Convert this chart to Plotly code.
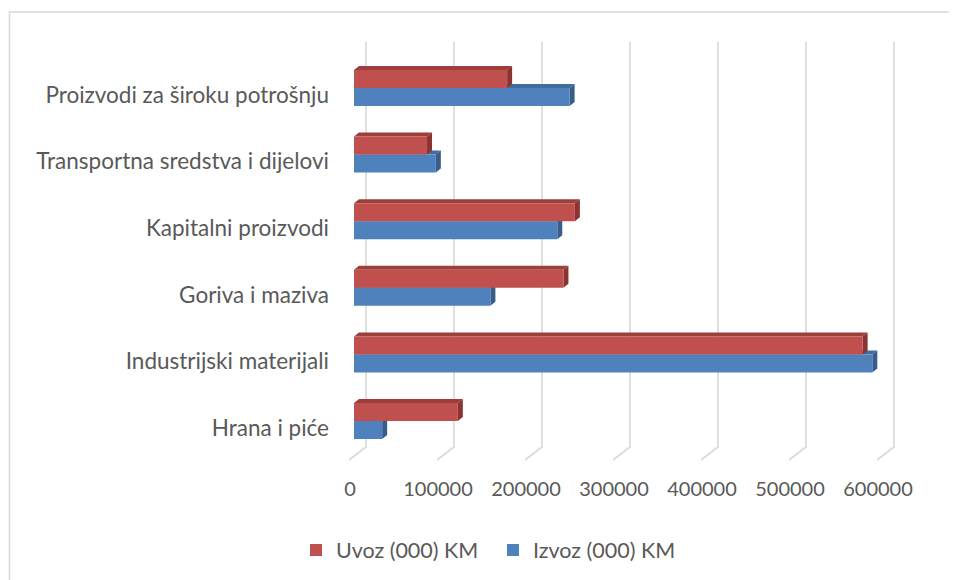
import plotly.graph_objects as go

# ---- data (bottom to top) ----
categories = ["Hrana i piće", "Industrijski materijali", "Goriva i maziva",
              "Kapitalni proizvodi", "Transportna sredstva i dijelovi",
              "Proizvodi za široku potrošnju"]
uvoz = [118000, 578000, 238000, 251000, 83000, 174000]
izvoz = [32000, 589000, 155000, 231000, 93000, 245000]
tick_values = [0, 100000, 200000, 300000, 400000, 500000, 600000]
tick_labels = ["0", "100000", "200000", "300000", "400000", "500000", "600000"]
series_names = ["Uvoz (000) KM", "Izvoz (000) KM"]

# ---- geometry (page pixels; the page body has an 8px margin) ----
OFF = 8
W, H = 957 - OFF, 580 - OFF
PX_PER_UNIT_X = 88 / 100000      # pixels per value unit
PX_PER_CAT = 66.6                # pixels per category
L_PX, R_PX = 346, 900            # plot area left/right (page px)
T_PX, B_PX = 40, 462             # plot area top/bottom (page px)
ZERO_PX = 354                    # page px of value 0
CAT0_PX = 421                    # page px of category index 0

xmin = (L_PX - ZERO_PX) / PX_PER_UNIT_X
xmax = (R_PX - ZERO_PX) / PX_PER_UNIT_X
ymin = (CAT0_PX - B_PX) / PX_PER_CAT
ymax = (CAT0_PX - T_PX) / PX_PER_CAT

def dx(p):
    return p / PX_PER_UNIT_X

def dy(p):
    return p / PX_PER_CAT

def ypix(p):
    return (CAT0_PX - p) / PX_PER_CAT

BARGAP = 0.46
t = (1 - BARGAP) / 2
idx = list(range(len(categories)))

RED, BLUE = "#C0504D", "#4F81BD"
RED_TOP, RED_SIDE = "#9E3E3B", "#8A3431"
BLUE_TOP, BLUE_SIDE = "#426C9E", "#385D8A"
GRID = "#D9D9D9"
TXT = "#595959"
FONT = "Lato"

fig = go.Figure()
fig.add_trace(go.Bar(y=idx, x=izvoz, orientation="h", name=series_names[1],
                     marker=dict(color=BLUE, line=dict(width=0))))
fig.add_trace(go.Bar(y=idx, x=uvoz, orientation="h", name=series_names[0],
                     marker=dict(color=RED, line=dict(width=0))))

shapes = []
# back-wall gridlines with floor diagonals
for v in tick_values:
    xb = v + dx(12)
    xf = v - dx(5)
    shapes.append(dict(type="path", xref="x", yref="y", layer="between",
                       path=f"M {xb},{ypix(42)} L {xb},{ypix(447)} L {xf},{ypix(460)}",
                       line=dict(color=GRID, width=1.6)))

DXP, DYP = dx(5), dy(4)

def faces(v, y0, y1, top_col, side_col):
    return [
        dict(type="path", xref="x", yref="y", layer="between",
             path=f"M 0,{y1} L {v},{y1} L {v+DXP},{y1+DYP} L {DXP},{y1+DYP} Z",
             fillcolor=top_col, line=dict(width=0)),
        dict(type="path", xref="x", yref="y", layer="between",
             path=f"M {v},{y0} L {v+DXP},{y0+DYP} L {v+DXP},{y1+DYP} L {v},{y1} Z",
             fillcolor=side_col, line=dict(width=0)),
    ]

for i, v in zip(idx, izvoz):
    shapes += faces(v, i - t, i, BLUE_TOP, BLUE_SIDE)
for i, v in zip(idx, uvoz):
    shapes += faces(v, i, i + t, RED_TOP, RED_SIDE)

# outer chart border (page px -> paper)
def px2paper_x(p):
    return (p - L_PX) / (R_PX - L_PX)

def px2paper_y(p):
    return (B_PX - p) / (B_PX - T_PX)

shapes.append(dict(type="path", xref="paper", yref="paper", layer="above",
                   path=(f"M {px2paper_x(9.5)},{px2paper_y(620)} "
                         f"L {px2paper_x(9.5)},{px2paper_y(12)} "
                         f"L {px2paper_x(1000)},{px2paper_y(12)}"),
                   line=dict(color=GRID, width=1.5)))

fig.update_layout(
    width=W, height=H,
    margin=dict(l=L_PX - OFF, r=W - (R_PX - OFF), t=T_PX - OFF, b=H - (B_PX - OFF),
                autoexpand=False),
    paper_bgcolor="white", plot_bgcolor="white",
    barmode="group", bargap=BARGAP, bargroupgap=0,
    font=dict(family=FONT, color=TXT, size=20),
    showlegend=True,
    legend=dict(orientation="h", traceorder="reversed",
                xref="container", yref="container",
                x=(493 - OFF) / W, y=1 - (550 - OFF) / H,
                xanchor="center", yanchor="middle",
                entrywidth=152,
                font=dict(size=21.5, color=TXT, family=FONT)),
    shapes=shapes,
)
fig.update_xaxes(range=[xmin, xmax], tickvals=tick_values, ticktext=tick_labels,
                 showgrid=False, zeroline=False, showline=False, ticks="",
                 ticklabelstandoff=13, ticklabelshift=-4,
                 tickfont=dict(size=20, color=TXT, family=FONT))
fig.update_yaxes(range=[ymin, ymax], tickvals=idx, ticktext=categories,
                 showgrid=False, zeroline=False, showline=False, ticks="",
                 ticklabelstandoff=16, ticklabelshift=7,
                 tickfont=dict(size=22.5, color=TXT, family=FONT))

fig.write_html("out.html")
